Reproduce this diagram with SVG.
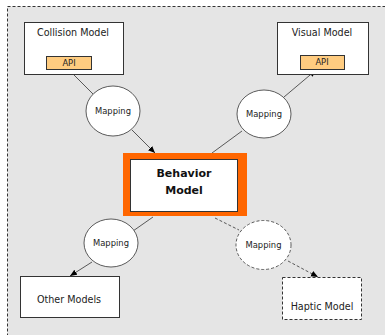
<svg xmlns="http://www.w3.org/2000/svg" width="385" height="335" viewBox="0 0 385 335">
<style>
.box{fill:#ffffff;stroke:#333333;stroke-width:1}
.dash{stroke-dasharray:3,2}
.api{fill:#ffcc80;stroke:#333333;stroke-width:1}
.map{fill:#ffffff;stroke:#333333;stroke-width:0.8}
.lbl{font-family:"DejaVu Sans",Verdana,sans-serif;font-size:9.6px;fill:#222222;text-anchor:middle}
.small{font-family:"DejaVu Sans",Verdana,sans-serif;font-size:8.4px;fill:#222222;text-anchor:middle}
.bold{font-family:"DejaVu Sans",Verdana,sans-serif;font-size:11px;font-weight:bold;fill:#111111;text-anchor:middle}
.conn{stroke:#333333;stroke-width:0.8;fill:none}
</style>
<defs>
<marker id="arr" markerUnits="userSpaceOnUse" markerWidth="8" markerHeight="8" refX="7" refY="3" orient="auto">
<path d="M0,0 L7,3 L0,6 Z" fill="#000000"/>
</marker>
</defs>
<rect x="0" y="0" width="385" height="335" fill="#ffffff"/>
<rect id="frame" x="7.5" y="6.5" width="390" height="340" fill="#e5e5e5" stroke="#333333" stroke-width="1" stroke-dasharray="3,2"/>
<g id="connectors">
<line class="conn" x1="74" y1="75" x2="94" y2="95"/>
<line class="conn" x1="132" y1="130" x2="155" y2="153" marker-end="url(#arr)"/>
<line class="conn" x1="212" y1="153" x2="242" y2="131"/>
<line class="conn" x1="284" y1="97" x2="316" y2="70" marker-end="url(#arr)"/>
<line class="conn" x1="153" y1="217" x2="133" y2="231"/>
<line class="conn" x1="92" y1="262" x2="70" y2="276" marker-end="url(#arr)"/>
<line class="conn dash" x1="215" y1="218" x2="239" y2="230"/>
<line class="conn dash" x1="288" y1="261" x2="318" y2="277" marker-end="url(#arr)"/>
</g>
<g id="collision-model">
<rect class="box" x="24.5" y="22.5" width="99" height="52"/>
<text class="lbl" x="73" y="36">Collision Model</text>
<rect class="api" x="46.5" y="56.5" width="45" height="13"/>
<text class="small" x="69" y="66">API</text>
</g>
<g id="visual-model">
<rect class="box" x="277.5" y="22.5" width="91" height="52"/>
<text class="lbl" x="322" y="36">Visual Model</text>
<rect class="api" x="300.5" y="55.5" width="44" height="14"/>
<text class="small" x="322" y="65">API</text>
</g>
<g id="mapping-tl">
<ellipse class="map" cx="113" cy="111" rx="27" ry="25"/>
<text class="small" x="113" y="114">Mapping</text>
</g>
<g id="mapping-tr">
<ellipse class="map" cx="264" cy="114" rx="27" ry="24"/>
<text class="small" x="264" y="117">Mapping</text>
</g>
<g id="behavior-model">
<rect x="123" y="153" width="124" height="63" fill="#ff6600"/>
<rect class="box" x="130.5" y="159.5" width="107" height="52"/>
<text class="bold" x="184" y="177">Behavior</text>
<text class="bold" x="184" y="194">Model</text>
</g>
<g id="mapping-bl">
<ellipse class="map" cx="111" cy="243" rx="27" ry="24"/>
<text class="small" x="111" y="246">Mapping</text>
</g>
<g id="mapping-br">
<ellipse class="map dash" cx="263.5" cy="245" rx="27.5" ry="24.5"/>
<text class="small" x="263.5" y="248">Mapping</text>
</g>
<g id="other-models">
<rect class="box" x="20.5" y="276.5" width="99" height="41"/>
<text class="lbl" x="69" y="303">Other Models</text>
</g>
<g id="haptic-model">
<rect class="box dash" x="282.5" y="277.5" width="79" height="42"/>
<text class="lbl" x="322" y="310">Haptic Model</text>
</g>
</svg>
